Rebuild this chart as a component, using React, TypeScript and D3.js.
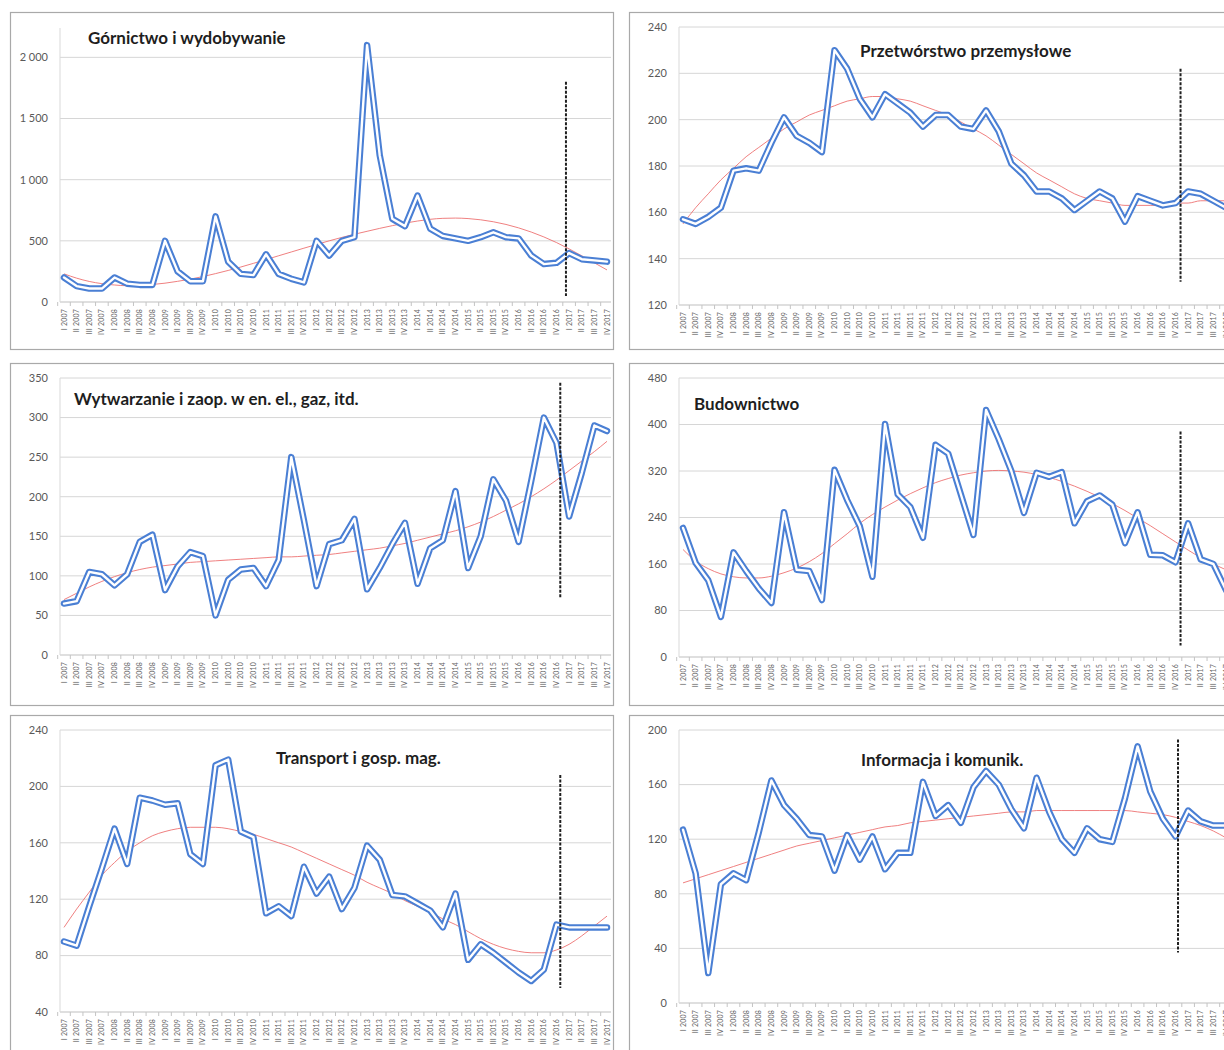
import React from "react";
import * as d3 from "d3";

// ---------- categories ----------
const years = [2007, 2008, 2009, 2010, 2011, 2012, 2013, 2014, 2015, 2016, 2017];
const quarterNames = ["I", "II", "III", "IV"];
const categories = years.flatMap((yr) => quarterNames.map((q) => `${q} ${yr}`));

// ---------- series ----------
const gornictwo = [200,130,110,110,200,150,140,140,500,250,170,170,700,330,230,220,390,230,190,160,500,380,500,530,2100,1200,680,620,870,600,540,520,500,530,570,530,520,380,310,320,400,350,340,330];
const gornictwoTrend = [230,195,168,150,139,133,136,143,154,169,187,208,232,258,286,316,347,378,409,440,470,500,528,554,578,602,624,645,662,676,684,686,682,672,656,634,606,572,532,486,434,378,320,262];

const przetworstwo = [157,155,158,162,178,179,178,190,201,193,190,186,230,222,209,201,211,207,203,197,202,202,197,196,204,195,181,176,169,169,166,161,165,169,166,156,167,165,163,164,169,168,165,162];
const przetworstwoTrend = [155,162,168,174,179,184,188,192,196,199,202,204,206,208,209,210,210,209,208,206,204,202,199,196,193,189,185,181,177,174,171,168,166,165,164,163,163,163,163,164,164,165,165,165];

const wytwarzanie = [65,68,105,102,88,102,143,152,82,112,130,125,50,95,108,110,87,120,250,170,87,140,145,172,83,110,140,167,90,135,145,207,110,150,222,195,143,220,300,268,175,230,290,283];
const wytwarzanieTrend = [70,78,86,93,99,104,108,111,113,115,117,118,119,120,121,122,123,124,124,125,126,127,129,131,133,135,138,141,145,149,153,157,162,168,175,183,191,200,210,221,233,245,257,270];

const budownictwo = [222,162,132,69,180,148,118,93,249,150,148,98,322,270,225,138,401,280,258,205,365,350,280,210,425,375,320,248,317,310,318,230,268,278,262,196,249,176,175,163,230,168,160,115];
const budownictwoTrend = [185,165,152,143,138,136,136,139,145,153,164,178,195,212,230,245,258,270,281,291,300,307,313,317,320,321,320,318,314,309,302,294,285,275,264,252,239,226,212,198,184,171,160,150];

const transport = [90,87,115,142,170,145,192,190,187,188,152,145,215,219,168,164,110,115,108,143,124,136,113,128,158,148,123,122,117,112,100,124,77,88,82,75,68,62,70,102,100,100,100,100];
const transportTrend = [100,113,125,137,146,154,160,165,168,170,171,171,171,170,168,166,163,160,157,153,149,145,141,137,132,128,124,119,115,111,106,102,97,92,88,85,83,82,82,84,88,94,101,108];

const informacja = [127,95,22,87,95,90,125,163,145,135,123,122,97,123,105,122,98,110,110,162,137,145,132,158,170,160,142,128,165,140,120,110,128,120,118,150,188,155,135,122,141,133,130,130];
const informacjaTrend = [88,91,94,97,100,103,106,109,112,115,117,119,121,123,125,127,129,130,132,133,134,135,136,137,138,139,140,140,141,141,141,141,141,141,141,141,140,139,138,136,133,130,126,121];

// ---------- titles, ticks, markers ----------
const titles = [
  "Górnictwo i wydobywanie",
  "Przetwórstwo przemysłowe",
  "Wytwarzanie i zaop. w en. el., gaz, itd.",
  "Budownictwo",
  "Transport i gosp. mag.",
  "Informacja i komunik.",
];
const yTicks0 = [0, 500, 1000, 1500, 2000];
const yTicks1 = [120, 140, 160, 180, 200, 220, 240];
const yTicks2 = [0, 50, 100, 150, 200, 250, 300, 350];
const yTicks3 = [0, 80, 160, 240, 320, 400, 480];
const yTicks4 = [40, 80, 120, 160, 200, 240];
const yTicks5 = [0, 40, 80, 120, 160, 200];

// position (category index) and value span of the dashed forecast marker
const markerIndex = [39.75, 39.4, 39.3, 39.4, 39.3, 39.2];
const markerFrom = [50, 130, 72, 20, 57, 37];
const markerTo = [1800, 222, 344, 388, 208, 193];

const seriesList = [gornictwo, przetworstwo, wytwarzanie, budownictwo, transport, informacja];
const trendList = [gornictwoTrend, przetworstwoTrend, wytwarzanieTrend, budownictwoTrend, transportTrend, informacjaTrend];
const tickList = [yTicks0, yTicks1, yTicks2, yTicks3, yTicks4, yTicks5];

// ---------- layout (styling only) ----------
const layouts = [
  { box: [10, 12, 603, 337], left: 60, top: 28, bottom: 302, yMax: 2240, tx: 88, ty: 44 },
  { box: [629, 12, 603, 337], left: 679, top: 27, bottom: 305, yMax: 240, tx: 860, ty: 57 },
  { box: [10, 363, 603, 342], left: 60, top: 378, bottom: 655, yMax: 350, tx: 74, ty: 405 },
  { box: [629, 363, 603, 342], left: 679, top: 378, bottom: 657, yMax: 480, tx: 694, ty: 410 },
  { box: [10, 715, 603, 345], left: 60, top: 730, bottom: 1012, yMax: 240, tx: 276, ty: 764 },
  { box: [629, 715, 603, 345], left: 679, top: 730, bottom: 1003, yMax: 200, tx: 861, ty: 766 },
];

const spaceFmt = d3.formatLocale({ decimal: ",", thousands: " ", grouping: [3], currency: ["", ""] }).format(",");

const FONT = "Lato, 'Open Sans', 'DejaVu Sans', sans-serif";

function Panel({ k }: { k: number }) {
  const L = layouts[k];
  const ticks = tickList[k];
  const values = seriesList[k];
  const trend = trendList[k];
  const [bx, by, bw, bh] = L.box;
  const plotRight = L.left + 551;

  const x = d3.scalePoint<string>().domain(categories).range([L.left + 4, L.left + 547]);
  const xi = d3.scaleLinear().domain([0, categories.length - 1]).range([L.left + 4, L.left + 547]);
  const y = d3.scaleLinear().domain([ticks[0], L.yMax]).range([L.bottom, L.top]);
  const step = x.step();

  const line = d3
    .line<number>()
    .x((_, i) => x(categories[i]) as number)
    .y((d) => y(d));
  const trendLine = d3
    .line<number>()
    .x((_, i) => x(categories[i]) as number)
    .y((d) => y(d))
    .curve(d3.curveMonotoneX);

  const fmt = k === 0 ? spaceFmt : d3.format("d");
  const mx = xi(markerIndex[k]);

  return (
    <g>
      <rect x={bx + 0.5} y={by + 0.5} width={bw} height={bh} fill="#fff" stroke="#a9a9a9" strokeWidth={1.2} />
      {ticks.map((t) => (
        <line key={t} x1={L.left} x2={plotRight} y1={y(t)} y2={y(t)} stroke={t === ticks[0] ? "#bfbfbf" : "#d6d6d6"} strokeWidth={1} />
      ))}
      <line x1={L.left} x2={L.left} y1={L.top} y2={L.bottom} stroke="#d9d9d9" strokeWidth={1} />
      {categories.map((c, i) => {
        const tx = (x(c) as number) - step / 2;
        return <line key={"t" + i} x1={tx} x2={tx} y1={L.bottom} y2={L.bottom + 4} stroke="#c4c4c4" strokeWidth={1} />;
      })}
      {ticks.map((t) => (
        <text key={"l" + t} x={L.left - 12} y={y(t)} dy="0.35em" textAnchor="end" fontSize={11} fill="#595959" fontFamily={FONT}>
          {fmt(t)}
        </text>
      ))}
      {categories.map((c, i) => {
        const cx = (x(c) as number) + 2.5;
        const cy = L.bottom + 7;
        return (
          <text key={"x" + i} x={cx} y={cy} transform={`rotate(-90 ${cx} ${cy})`} textAnchor="end" fontSize={7} letterSpacing={0.2} fill="#666" fontFamily={FONT}>
            {c}
          </text>
        );
      })}
      <path d={trendLine(trend) || ""} fill="none" stroke="#ec6a6a" strokeWidth={1} opacity={0.85} />
      <path d={line(values) || ""} fill="none" stroke="#4a7fd4" strokeWidth={6.5} strokeLinejoin="round" strokeLinecap="round" />
      <path d={line(values) || ""} fill="none" stroke="#ffffff" strokeWidth={2.4} strokeLinejoin="round" strokeLinecap="round" />
      <line x1={mx} x2={mx} y1={y(markerTo[k])} y2={y(markerFrom[k])} stroke="#1f1f1f" strokeWidth={2} strokeDasharray="3 1.5" />
      <text x={L.tx} y={L.ty} fontSize={17} fontWeight="bold" fill="#1e1e1e" fontFamily={FONT}>
        {titles[k]}
      </text>
    </g>
  );
}

export default function App() {
  return (
    <div style={{ position: "absolute", left: 0, top: 0, width: 1224, height: 1050, overflow: "hidden", background: "#fff" }}>
      <svg width={1224} height={1050} viewBox="0 0 1224 1050" style={{ display: "block" }}>
        <rect x={0} y={0} width={1224} height={1050} fill="#fff" />
        {layouts.map((_, k) => (
          <Panel key={k} k={k} />
        ))}
      </svg>
    </div>
  );
}
